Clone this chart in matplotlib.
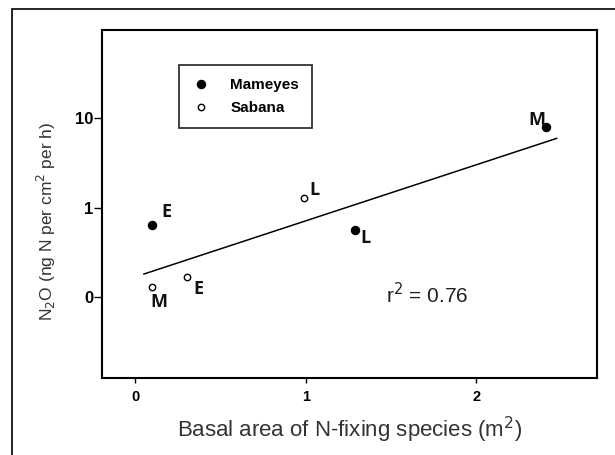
import matplotlib as mpl
mpl.use('Agg')
import matplotlib.pyplot as plt
import numpy as np

# data
sites = ['E', 'L', 'M']
mameyes_x = [0.10, 1.29, 2.41]
mameyes_y = [0.63, 0.556, 8.0]
sabana_x = [0.10, 0.99, 0.30]
sabana_y = [0.13, 1.28, 0.168]
sabana_sites = ['M', 'L', 'E']
fit_x = [0.05, 2.47]
fit_y = [0.18, 5.96]
r2 = 0.76
xticks = [0, 1, 2]
yticks = [10, 1, 0.1]
ytick_labels = ['10', '1', '0']

plt.rcParams['font.family'] = ['Liberation Sans', 'DejaVu Sans']

fig = plt.figure(figsize=(6.15, 4.55), dpi=100)
ax = fig.add_axes([102/615, 1-378/455, 495/615, 348/455])

# outer frame
fig.patches.append(plt.Rectangle((12/615, -0.05), 1.1, 1-9/455+0.05,
                                 transform=fig.transFigure, fill=False,
                                 edgecolor='black', lw=1.2))

ax.set_yscale('log')
ax.set_xlim(-0.196, 2.707)
ax.set_ylim(10**-1.91, 10**1.99)

ax.plot(fit_x, fit_y, color='black', lw=1.1, zorder=1)
ax.plot(mameyes_x, mameyes_y, 'o', color='black', ms=5.8, label='Mameyes', zorder=2)
ax.plot(sabana_x, sabana_y, 'o', mfc='white', mec='black', mew=1.0, ms=4.6,
        label='Sabana', zorder=2)

m_off = [(14, 13), (10, -8), (-9, 7)]
s_off = [(6, -15), (10, 8), (12, -12.6)]
for xs, ys, names, offs in ((mameyes_x, mameyes_y, sites, m_off),
                            (sabana_x, sabana_y, sabana_sites, s_off)):
    for xv, yv, n, o in zip(xs, ys, names, offs):
        ax.annotate(n, (xv, yv), xytext=o, textcoords='offset pixels',
                    ha='center', va='center', fontsize=13, fontweight='bold',
                    family=['Open Sans', 'DejaVu Sans'], color='#111111')

# r2 text, placed in figure pixels
fig.text(386/615, 1-295/455, 'r$^2$ = {:.2f}'.format(r2),
         fontsize=15, color='#222222', va='center')

ax.set_xticks(xticks)
ax.set_xticklabels([str(t) for t in xticks], fontweight='bold', fontsize=10.5,
                   family=['Liberation Sans Narrow', 'Liberation Sans'])
ax.set_yticks(yticks)
ax.set_yticklabels(ytick_labels, fontweight='bold', fontsize=12)
ax.yaxis.set_minor_locator(mpl.ticker.NullLocator())
ax.tick_params(axis='y', direction='out', length=5.5, width=1.0, pad=0.5)
ax.tick_params(axis='x', direction='out', length=3.5, width=1.0, pad=5)

for sp in ax.spines.values():
    sp.set_linewidth(1.5)

ax.set_xlabel('Basal area of N-fixing species (m$^2$)', fontsize=16,
              color='#333333', labelpad=8)
ax.set_ylabel('N$_2$O (ng N per cm$^2$ per h)', fontsize=12.5,
              color='#333333')
ax.yaxis.set_label_coords(-0.088, 0.45)

leg = ax.legend(loc='upper left', bbox_to_anchor=(0.156, 0.899),
                borderaxespad=0, frameon=True, fancybox=False,
                handletextpad=1.3, handlelength=1.2, labelspacing=0.6,
                borderpad=0.85, prop=dict(weight='bold', size=11))
leg.get_frame().set_edgecolor('black')
leg.get_frame().set_linewidth(1.3)

fig.savefig('out.png', dpi=100)
